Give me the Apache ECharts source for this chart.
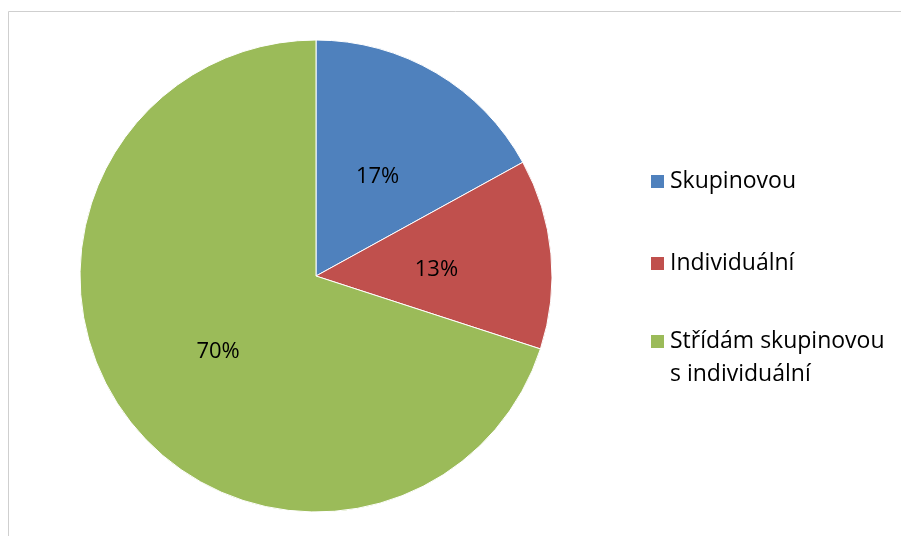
<!DOCTYPE html>
<html><head><meta charset="utf-8">
<script src="https://cdn.jsdelivr.net/npm/echarts@6/dist/echarts.min.js"></script>
<style>html,body{margin:0;padding:0;background:#fff}#c{width:901px;height:536px}</style>
</head><body><div id="c"></div>
<script>
const categories = ['Skupinovou', 'Individuální', 'Střídám skupinovou s individuální'];
const values = [17, 13, 70];
const colors = ['#4F81BD', '#C0504D', '#9BBB59'];
const legendLabels = ['Skupinovou', 'Individuální', '\nStřídám skupinovou\ns individuální'];

const chart = echarts.init(document.getElementById('c'), null, {renderer: 'canvas'});
const FONT = '"Open Sans", sans-serif';
const legendCommon = {
  orient: 'vertical', left: 644, itemWidth: 15, itemHeight: 15, itemGap: 49,
  icon: 'rect',
  textStyle: {fontFamily: FONT, fontSize: 23, color: '#000', lineHeight: 33},
  formatter: name => legendLabels[categories.indexOf(name)],
  selectedMode: false
};
chart.setOption({
  animation: false,
  graphic: [{
    type: 'rect', shape: {x: 8.5, y: 11.5, width: 1000, height: 600},
    style: {fill: 'none', stroke: '#cfcfcf', lineWidth: 1}, silent: true
  }],
  legend: [
    Object.assign({}, legendCommon, {top: 160, data: categories.slice(0, 2)}),
    Object.assign({}, legendCommon, {top: 287, data: categories.slice(2)})
  ],
  series: [{
    type: 'pie', center: [316, 276], radius: 236, startAngle: 90, clockwise: true,
    data: categories.map((n, i) => ({name: n, value: values[i], itemStyle: {color: colors[i]}})),
    itemStyle: {borderColor: '#fff', borderWidth: 1},
    label: {position: 'inside', formatter: p => p.value + '%', fontFamily: FONT, fontSize: 22, color: '#000', offset: [0, 5]},
    labelLine: {show: false},
    emphasis: {disabled: true}
  }]
});
</script></body></html>
